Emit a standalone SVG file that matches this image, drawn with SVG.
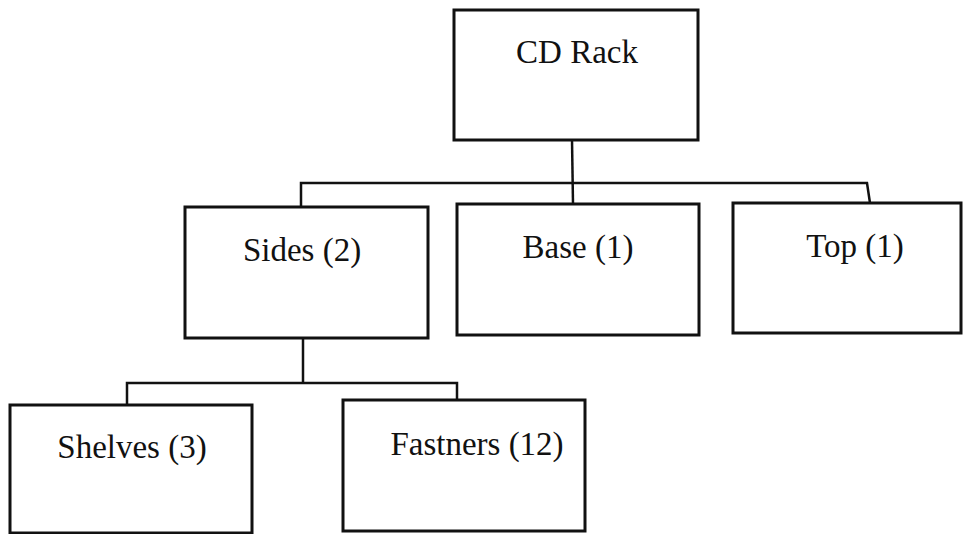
<svg xmlns="http://www.w3.org/2000/svg" width="965" height="534" viewBox="0 0 965 534">
<style>
.box{fill:#fff;stroke:#111;stroke-width:3}
.conn{fill:none;stroke:#111;stroke-width:2.5}
.lbl{font-family:"Liberation Serif","Times New Roman",serif;font-size:33px;fill:#111;text-anchor:middle}
</style>
<rect width="965" height="534" fill="#fff"/>
<g id="connectors">
<polyline class="conn" points="572,140 573,204"/>
<polyline class="conn" points="301,207 301,183 867,183 870,203"/>
<polyline class="conn" points="303,338 303,383"/>
<polyline class="conn" points="127,405 127,383 457,383 457,400"/>
</g>
<g id="cdrack"><rect class="box" x="454" y="10" width="244" height="130"/><text class="lbl" x="577" y="63">CD Rack</text></g>
<g id="sides"><rect class="box" x="185" y="207" width="243" height="131"/><text class="lbl" x="302" y="261">Sides (2)</text></g>
<g id="base"><rect class="box" x="457" y="204" width="242" height="131"/><text class="lbl" x="578" y="258">Base (1)</text></g>
<g id="top"><rect class="box" x="733" y="203" width="228" height="130"/><text class="lbl" x="855" y="257">Top (1)</text></g>
<g id="shelves"><rect class="box" x="10" y="405" width="242" height="128"/><text class="lbl" x="132" y="458">Shelves (3)</text></g>
<g id="fastners"><rect class="box" x="343" y="400" width="242" height="131"/><text class="lbl" x="477" y="455">Fastners (12)</text></g>
</svg>
